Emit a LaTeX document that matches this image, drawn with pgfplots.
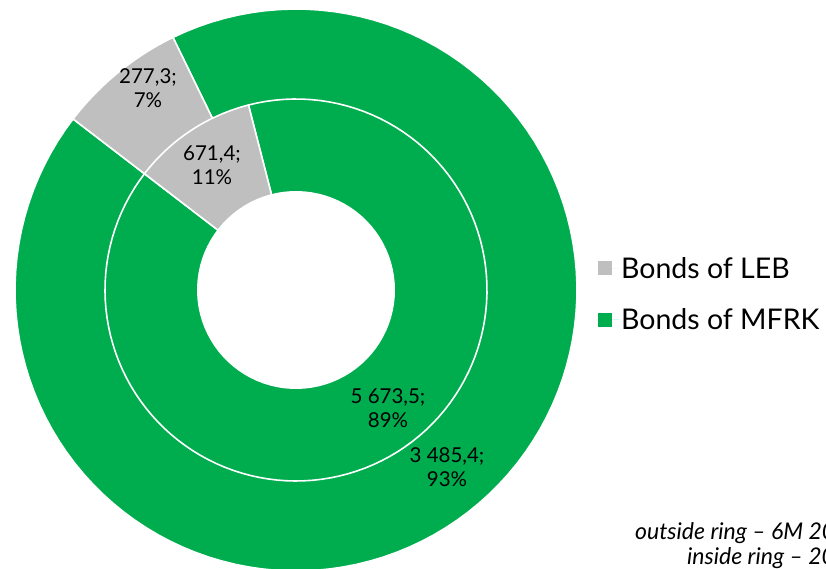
\documentclass[border=0pt]{standalone}
\usepackage{pgfplots}
\pgfplotsset{compat=1.18}
\usepackage{fontspec}
\setmainfont{Lato}
\definecolor{leb}{HTML}{BFBFBF}
\definecolor{mfrk}{HTML}{00AD4E}

% values (outer ring: 6M, inner ring: year)
\def\outLEB{277.3}\def\outMFRK{3485.4}
\def\inLEB{671.4}\def\inMFRK{5673.5}
\def\startang{142.5}
\pgfmathsetmacro\outsplit{\startang-360*(\outLEB/(\outLEB+\outMFRK))}
\pgfmathsetmacro\insplit{\startang-360*(\inLEB/(\inLEB+\inMFRK))}
\pgfmathsetmacro\endang{\startang-360}

\begin{document}
\begin{tikzpicture}
\begin{axis}[
    x=1bp, y=1bp,
    xmin=0, xmax=826, ymin=0, ymax=569,
    at={(0,0)}, anchor=south west,
    hide axis,
    clip=false,
    legend image code/.code={\fill[#1] (0bp,-7bp) rectangle (14bp,7bp); \path (0bp,0bp) -- (21bp,0bp);},
    legend style={at={(axis cs:598,275)}, anchor=west, draw=none, fill=none,
        font=\fontsize{28.5bp}{33bp}\selectfont, row sep=25bp,
        inner xsep=0pt, inner ysep=0pt},
    legend cell align=left,
    wedge/.style={forget plot, draw=white, line width=1.6bp, samples=120, variable=\t},
]
\addlegendimage{fill=leb, draw=none}
\addlegendimage{fill=mfrk, draw=none}
\legend{Bonds of LEB, Bonds of MFRK}

% outer ring
\addplot[wedge, fill=mfrk, domain=\endang:\outsplit] ({296+281*cos(\t)}, {279+281*sin(\t)}) -- (axis cs:296,279) -- cycle;
\addplot[wedge, fill=leb, domain=\outsplit:\startang] ({296+281*cos(\t)}, {279+281*sin(\t)}) -- (axis cs:296,279) -- cycle;
% inner ring
\addplot[wedge, fill=mfrk, domain=\endang:\insplit] ({296+191*cos(\t)}, {279+191*sin(\t)}) -- (axis cs:296,279) -- cycle;
\addplot[wedge, fill=leb, domain=\insplit:\startang] ({296+191*cos(\t)}, {279+191*sin(\t)}) -- (axis cs:296,279) -- cycle;
% hole
\addplot[forget plot, fill=white, draw=none, samples=90, domain=0:360, variable=\t] ({296+99*cos(\t)}, {279+99*sin(\t)}) -- cycle;

\begin{scope}[every node/.style={align=center, font=\fontsize{20.5bp}{24bp}\selectfont}]
\node at (axis cs:148,481) {277,3;\\7\%};
\node at (axis cs:212,404) {671,4;\\11\%};
\node at (axis cs:388,161) {5 673,5;\\89\%};
\node at (axis cs:447,102) {3 485,4;\\93\%};
\end{scope}
\node[anchor=base west, inner sep=0pt, font=\fontsize{23bp}{27bp}\selectfont\itshape] at (axis cs:635,30) {outside ring -- 6M 2023};
\node[anchor=base west, inner sep=0pt, font=\fontsize{23bp}{27bp}\selectfont\itshape] at (axis cs:687,5) {inside ring -- 2022};
\end{axis}
\pgfresetboundingbox
\path[use as bounding box] (0,0) rectangle (826bp,569bp);
\end{tikzpicture}
\end{document}
